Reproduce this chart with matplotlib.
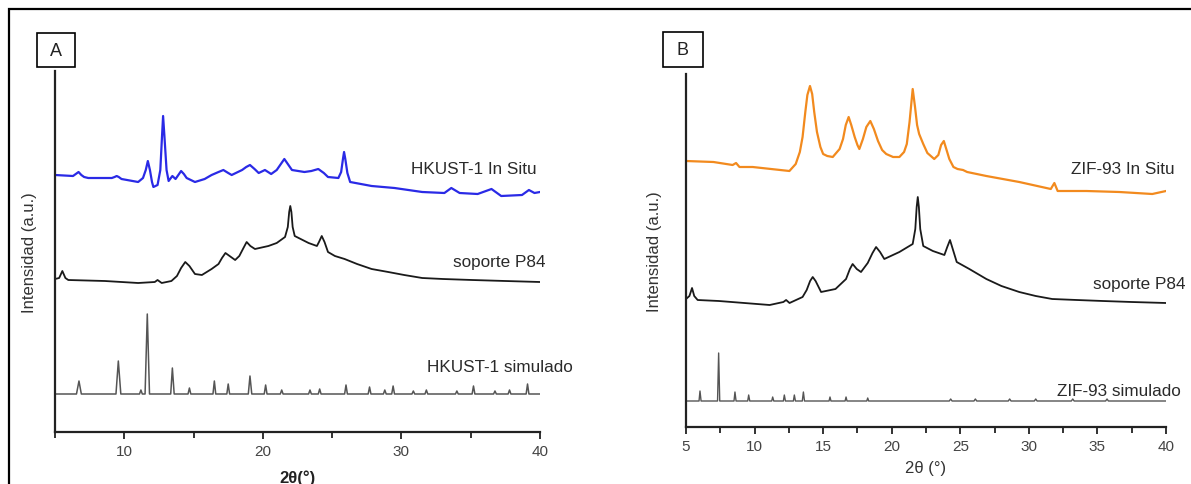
import matplotlib
matplotlib.use("Agg")
import matplotlib.pyplot as plt
from matplotlib.ticker import MultipleLocator, NullLocator
from matplotlib.patches import Rectangle

plt.rcParams['font.family'] = ['Liberation Sans', 'DejaVu Sans']

# ---- Panel A data (2theta, intensity a.u.) ----
hkust_insitu_x = [5.0, 6.3, 6.5, 6.7, 6.9, 7.1, 7.4, 9.1, 9.3, 9.45, 9.6, 9.8, 11.0, 11.35, 11.55,
                  11.7, 11.85, 12.0, 12.1, 12.4, 12.6, 12.72, 12.8, 12.9, 13.05, 13.2, 13.47,
                  13.7, 13.9, 14.1, 14.3, 14.5, 15.1, 15.8, 16.3, 16.8, 17.15, 17.5, 17.75,
                  18.5, 18.8, 19.07, 19.4, 19.7, 20.15, 20.6, 21.0, 21.3, 21.55, 21.8, 22.1,
                  23.0, 23.5, 24.0, 24.4, 24.7, 25.45, 25.65, 25.78, 25.86, 25.95, 26.1, 26.3,
                  27.85, 29.5, 31.5, 33.1, 33.6, 34.2, 35.5, 36.5, 37.2, 38.7, 39.2, 39.6, 40.0]
hkust_insitu_y = [257, 256, 258, 260, 257, 255, 254, 254, 255, 256, 255, 253, 250, 254, 262,
                  271, 262, 250, 245, 247, 262, 295, 316, 295, 262, 251, 256,
                  253, 257, 261, 258, 254, 250, 253, 257, 260, 262, 259, 257,
                  262, 265, 267, 263, 259, 262, 258, 262, 268, 273, 268, 262,
                  260, 261, 263, 259, 255, 254, 260, 273, 280, 273, 259, 250,
                  246, 244, 240, 239, 244, 239, 238, 243, 236, 237, 242, 239, 240]

p84_a_x = [5.0, 5.3, 5.53, 5.75, 5.96, 8.6, 11.0, 12.2, 12.4, 12.7, 13.4, 13.8, 14.1, 14.4,
           14.7, 15.1, 15.6, 16.3, 16.8, 17.05, 17.3, 17.6, 18.0, 18.3, 18.6, 18.83, 19.1,
           19.43, 20.4, 21.0, 21.6, 21.8, 21.9, 21.98, 22.06, 22.15, 22.3, 23.3, 23.9,
           24.05, 24.25, 24.45, 24.7, 25.2, 25.9, 26.8, 27.85, 29.05, 30.2, 31.5, 33.0,
           35.1, 37.5, 40.0]
p84_a_y = [153, 154, 161, 154, 152, 151, 149, 150, 152, 149, 151, 156, 164, 170,
           166, 158, 157, 163, 168, 174, 179, 176, 172, 176, 184, 190, 186,
           183, 186, 189, 195, 205, 220, 226, 220, 205, 196, 189, 186,
           190, 196, 190, 180, 176, 173, 168, 163, 160, 157, 154, 153,
           152, 151, 150]

hkust_sim_x = [5.0, 6.55, 6.73, 6.9, 9.4, 9.57, 9.75, 11.1, 11.2, 11.3, 11.5, 11.66, 11.82,
               13.35, 13.47, 13.6, 14.6, 14.7, 14.8, 16.4, 16.5, 16.6, 17.4, 17.5, 17.6,
               18.95, 19.07, 19.2, 20.1, 20.2, 20.3, 21.26, 21.36, 21.46, 23.3, 23.4, 23.5,
               24.0, 24.1, 24.2, 25.9, 26.0, 26.1, 27.6, 27.7, 27.8, 28.7, 28.8, 28.9,
               29.3, 29.4, 29.5, 30.76, 30.86, 30.96, 31.7, 31.8, 31.9, 33.9, 34.0, 34.1,
               35.1, 35.2, 35.3, 36.65, 36.75, 36.85, 37.7, 37.8, 37.9, 39.0, 39.1, 39.2, 40.0]
hkust_sim_y = [38, 38, 51, 38, 38, 71, 38, 38, 42, 38, 38, 118, 38,
               38, 64, 38, 38, 44, 38, 38, 51, 38, 38, 48, 38,
               38, 56, 38, 38, 47, 38, 38, 42, 38, 38, 42, 38,
               38, 43, 38, 38, 47, 38, 38, 45, 38, 38, 42, 38,
               38, 46, 38, 38, 41, 38, 38, 42, 38, 38, 41, 38,
               38, 46, 38, 38, 41, 38, 38, 42, 38, 38, 48, 38, 38]

# ---- Panel B data ----
zif_insitu_x = [5.0, 7.0, 8.4, 8.65, 8.9, 9.86, 12.54, 13.0, 13.3, 13.5, 13.7, 13.85, 14.04,
                14.2, 14.35, 14.55, 14.8, 15.0, 15.3, 15.7, 16.2, 16.45, 16.65, 16.86, 17.05,
                17.3, 17.5, 17.64, 17.9, 18.15, 18.44, 18.7, 19.0, 19.3, 19.6, 20.1, 20.56,
                20.9, 21.1, 21.3, 21.53, 21.7, 21.85, 22.0, 22.3, 22.6, 23.1, 23.4, 23.6,
                23.8, 24.0, 24.2, 24.5, 24.8, 25.2, 25.5, 26.9, 29.3, 31.6, 31.86, 32.1,
                34.2, 36.6, 39.0, 40.0]
zif_insitu_y = [266, 265, 262, 264, 260, 260, 256, 263, 275, 290, 315, 332, 341,
                333, 315, 295, 280, 273, 271, 270, 278, 288, 302, 310, 302,
                290, 282, 278, 288, 300, 306, 298, 286, 277, 273, 270, 270,
                275, 283, 305, 338, 320, 302, 293, 283, 274, 268, 272, 282,
                286, 277, 268, 260, 258, 257, 255, 251, 245, 238, 244, 236,
                236, 235, 233, 236]

p84_b_x = [5.0, 5.25, 5.44, 5.6, 5.85, 7.4, 11.1, 12.1, 12.3, 12.55, 13.5, 13.8, 14.05, 14.24,
           14.45, 14.85, 15.9, 16.67, 16.95, 17.15, 17.45, 17.76, 18.25, 18.6, 18.86, 19.15,
           19.46, 20.56, 21.53, 21.72, 21.82, 21.9, 21.98, 22.08, 22.3, 23.0, 23.84, 24.05,
           24.25, 24.45, 24.74, 25.66, 26.9, 28.0, 29.3, 30.5, 31.7, 33.5, 35.4, 37.5, 40.0]
p84_b_y = [128, 131, 139, 131, 127, 126, 122, 125, 127, 124, 130, 137, 146, 150,
           146, 135, 138, 148, 158, 163, 158, 155, 164, 174, 180, 175,
           168, 175, 183, 198, 220, 230, 220, 198, 181, 176, 172, 180,
           187, 178, 165, 158, 148, 141, 135, 131, 128, 127, 126, 125, 124]

zif_sim_x = [5.0, 5.95, 6.02, 6.1, 7.3, 7.38, 7.46, 8.5, 8.57, 8.65, 9.5, 9.57, 9.65,
             11.25, 11.32, 11.4, 12.1, 12.17, 12.25, 12.83, 12.9, 12.98, 13.48, 13.56, 13.64,
             15.43, 15.5, 15.57, 16.6, 16.67, 16.74, 18.18, 18.25, 18.32, 24.2, 24.3, 24.4,
             26.0, 26.1, 26.2, 28.5, 28.6, 28.7, 30.4, 30.5, 30.6, 33.1, 33.2, 33.3,
             35.6, 35.7, 35.8, 40.0]
zif_sim_y = [26, 26, 36, 26, 26, 74, 26, 26, 35, 26, 26, 32, 26,
             26, 30, 26, 26, 32, 26, 26, 32, 26, 26, 35, 26,
             26, 30, 26, 26, 30, 26, 26, 29, 26, 26, 28, 26,
             26, 28, 26, 26, 28, 26, 26, 28, 26, 26, 28, 26,
             26, 28, 26, 26]

W, H = 1191, 485
fig = plt.figure(figsize=(W / 100, H / 100), dpi=100)

# outer frame (top and left edges visible, others run off the image)
fig.add_artist(Rectangle((9 / W, -0.05), 1.1, (H - 10) / H + 0.05,
                         transform=fig.transFigure, fill=False, lw=1.6, ec='black'))


def style_axes(ax, ymax):
    ax.set_xlim(5, 40)
    ax.set_ylim(0, ymax)
    for s in ['top', 'right']:
        ax.spines[s].set_visible(False)
    for s in ['left', 'bottom']:
        ax.spines[s].set_linewidth(1.6)
        ax.spines[s].set_color('#222222')
    ax.yaxis.set_major_locator(NullLocator())
    ax.tick_params(axis='x', which='major', direction='out', length=5, width=1.3,
                   colors='#222222', labelcolor='#444444', labelsize=11, pad=4)
    ax.tick_params(axis='x', which='minor', direction='out', length=4, width=1.3, colors='#222222')
    ax.patch.set_alpha(0)


def panel_box(x0, x1, y0, y1, letter):
    fig.add_artist(Rectangle((x0 / W, 1 - y1 / H), (x1 - x0) / W, (y1 - y0) / H,
                             transform=fig.transFigure, fill=True, fc='white', ec='black', lw=1.2))
    fig.text((x0 + x1) / 2 / W, 1 - (y0 + y1) / 2 / H, letter, fontsize=13,
             ha='center', va='center', color='#222222')


# ---- Panel A ----
axA = fig.add_axes([55 / W, (H - 433) / H, 485 / W, 361 / H])
axA.plot(hkust_insitu_x, hkust_insitu_y, color='#2a2ae6', lw=1.6)
axA.plot(p84_a_x, p84_a_y, color='#1a1a1a', lw=1.3)
axA.plot(hkust_sim_x, hkust_sim_y, color='#555555', lw=1.1)
style_axes(axA, 361)
axA.xaxis.set_major_locator(MultipleLocator(10))
axA.xaxis.set_minor_locator(MultipleLocator(5))
axA.set_xlabel('2θ(°)', fontsize=12, fontweight='bold', color='#222222', labelpad=8)
axA.set_ylabel('Intensidad (a.u.)', fontsize=12, color='#333333', labelpad=13)
axA.text(30.69, 263, 'HKUST-1 In Situ', fontsize=12.3, color='#2a2a2a', va='center', clip_on=False)
axA.text(33.72, 171, 'soporte P84', fontsize=12.3, color='#2a2a2a', va='center', clip_on=False)
axA.text(31.82, 65, 'HKUST-1 simulado', fontsize=12.3, color='#2a2a2a', va='center', clip_on=False)
panel_box(37, 75, 34, 68, 'A')

# ---- Panel B ----
axB = fig.add_axes([686 / W, (H - 428) / H, 480 / W, 353 / H])
axB.plot(zif_insitu_x, zif_insitu_y, color='#f28a1e', lw=1.6)
axB.plot(p84_b_x, p84_b_y, color='#1a1a1a', lw=1.3)
axB.plot(zif_sim_x, zif_sim_y, color='#555555', lw=1.0)
style_axes(axB, 353)
axB.xaxis.set_major_locator(MultipleLocator(5))
axB.xaxis.set_minor_locator(MultipleLocator(2.5))
axB.set_xlabel('2θ (°)', fontsize=12, color='#333333', labelpad=5)
axB.set_ylabel('Intensidad (a.u.)', fontsize=12, color='#333333', labelpad=17)
axB.text(33.07, 258, 'ZIF-93 In Situ', fontsize=12.3, color='#2a2a2a', va='center', clip_on=False)
axB.text(34.68, 143, 'soporte P84', fontsize=12.3, color='#2a2a2a', va='center', clip_on=False)
axB.text(32.03, 36, 'ZIF-93 simulado', fontsize=12.3, color='#2a2a2a', va='center', clip_on=False)
panel_box(663, 703, 33, 68, 'B')

fig.savefig('out.png', dpi=100)
